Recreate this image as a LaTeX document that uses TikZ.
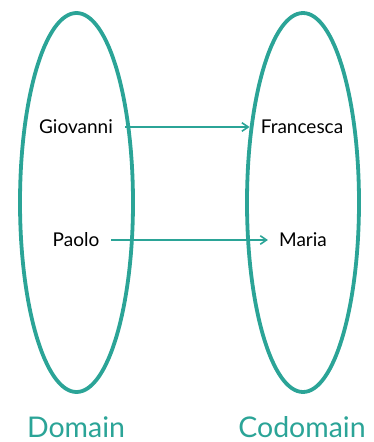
\documentclass[tikz,border=0pt]{standalone}
\usepackage{fontspec}
\setmainfont{Lato}
\usepackage{xcolor}
\usetikzlibrary{arrows.meta,positioning}
\definecolor{setteal}{HTML}{2BA497}
\tikzset{setbody/.style={draw=setteal, line width=3.8pt}, elem/.style={font=\fontsize{19}{22}\selectfont, text=black, inner sep=0pt}, mapto/.style={-{Straight Barb[length=2.2mm,width=3mm]}, line width=1.6pt, color=setteal, shorten <=12pt, shorten >=11pt}, setname/.style={font=\fontsize{28.5}{32}\selectfont, text=setteal, inner sep=0pt, anchor=base}}

\begin{document}
\begin{tikzpicture}[x=1pt,y=-1pt]
\useasboundingbox (0,0) rectangle (374,442);
\draw[setbody] (76.5,202.5) ellipse [x radius=56.5, y radius=189.5];
\draw[setbody] (303,202.5) ellipse [x radius=56, y radius=189.5];
\node[elem] (gio) at (76,127) {Giovanni}; \node[elem] (fra) at (302,127) {Francesca};
\node[elem] (pao) at (76,240) {Paolo}; \node[elem] (mar) at (303,240) {Maria};
\draw[mapto] (gio.east)--(fra.west);
\draw[mapto] (pao.east)--(mar.west);
\node[setname] (dom) at (76,437) {Domain}; \node[setname] (cod) at (302,437) {Codomain};
\end{tikzpicture}
\end{document}
